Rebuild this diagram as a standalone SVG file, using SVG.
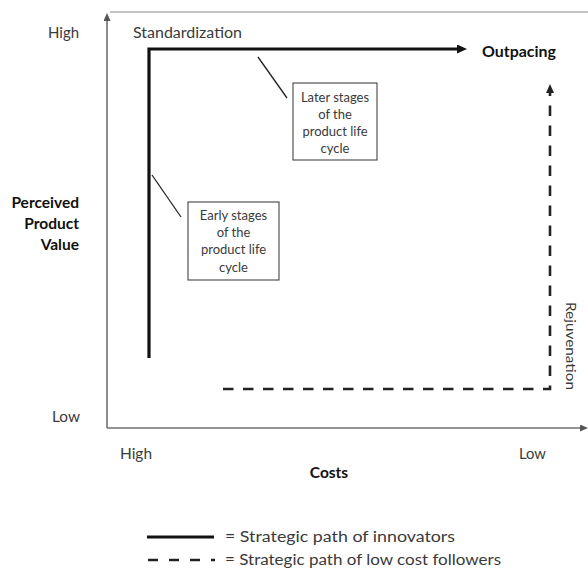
<svg xmlns="http://www.w3.org/2000/svg" width="588" height="569" viewBox="0 0 588 569">
<style>
text{font-family:Lato,"Open Sans","Liberation Sans",sans-serif;fill:#3a3a3a}
.b{font-weight:bold;fill:#111}
.lbl{font-size:15.5px}
.box{font-size:13px;text-anchor:middle}
.axis{stroke:#707070;stroke-width:1.6;fill:none}
.thick{stroke:#111;stroke-width:3.2;fill:none}
.dash{stroke:#222;stroke-width:2.6;fill:none;stroke-dasharray:10.5 9.5}
.frame{fill:#fff;stroke:#444;stroke-width:1.1}
</style>
<defs>
<marker id="ah" markerUnits="userSpaceOnUse" markerWidth="10" markerHeight="9" viewBox="0 0 10 9" refX="1" refY="4.5" orient="auto"><path d="M0,0 L10,4.5 L0,9 z" fill="#111"/></marker>
<marker id="ahd" markerUnits="userSpaceOnUse" markerWidth="9" markerHeight="8" viewBox="0 0 9 8" refX="0" refY="4" orient="auto"><path d="M0,0 L9,4 L0,8 z" fill="#222"/></marker>
<marker id="ax" markerUnits="userSpaceOnUse" markerWidth="8" markerHeight="7" viewBox="0 0 8 7" refX="1" refY="3.5" orient="auto"><path d="M0,0 L8,3.5 L0,7 z" fill="#555"/></marker>
</defs>
<g id="frame">
<line x1="110" y1="12" x2="588" y2="12" stroke="#888" stroke-width="1"/>
</g>
<g id="axes">
<path class="axis" d="M107,428 V20" marker-end="url(#ax)"/>
<path class="axis" d="M107,428 H581" marker-end="url(#ax)"/>
</g>
<g id="axis-labels">
<text x="48" y="38" class="lbl" textLength="31" lengthAdjust="spacingAndGlyphs">High</text>
<text x="52" y="422" class="lbl" textLength="28" lengthAdjust="spacingAndGlyphs">Low</text>
<text x="79" y="208" class="lbl b" text-anchor="end">Perceived</text>
<text x="79" y="229" class="lbl b" text-anchor="end">Product</text>
<text x="79" y="250" class="lbl b" text-anchor="end">Value</text>
<text x="120" y="459" class="lbl" textLength="32" lengthAdjust="spacingAndGlyphs">High</text>
<text x="519" y="459" class="lbl" textLength="27" lengthAdjust="spacingAndGlyphs">Low</text>
<text x="329" y="478" class="lbl b" text-anchor="middle">Costs</text>
</g>
<g id="connectors">
<path class="thick" d="M149,358 V49 H458" marker-end="url(#ah)"/>
<path class="dash" d="M223,389 H550 V93" marker-end="url(#ahd)"/>
<line x1="258" y1="57" x2="287" y2="98" stroke="#222" stroke-width="1.3"/>
<line x1="152" y1="175" x2="181" y2="217" stroke="#222" stroke-width="1.3"/>
</g>
<g id="standardization">
<text x="133" y="38" class="lbl" textLength="109" lengthAdjust="spacingAndGlyphs">Standardization</text>
</g>
<g id="outpacing">
<text x="482" y="57" class="lbl b" textLength="74" lengthAdjust="spacingAndGlyphs">Outpacing</text>
</g>
<g id="rejuvenation">
<text transform="translate(566,302) rotate(90)" x="0" y="0" font-size="13.5" textLength="88" lengthAdjust="spacingAndGlyphs">Rejuvenation</text>
</g>
<g id="later-stages">
<rect class="frame" x="293" y="83" width="84" height="77"/>
<text class="box" x="335" y="102">Later stages</text>
<text class="box" x="335" y="119">of the</text>
<text class="box" x="335" y="136">product life</text>
<text class="box" x="335" y="153">cycle</text>
</g>
<g id="early-stages">
<rect class="frame" x="188" y="202" width="91" height="78"/>
<text class="box" x="233.5" y="220">Early stages</text>
<text class="box" x="233.5" y="237">of the</text>
<text class="box" x="233.5" y="254">product life</text>
<text class="box" x="233.5" y="272">cycle</text>
</g>
<g id="legend">
<line x1="147" y1="537" x2="214" y2="537" stroke="#111" stroke-width="3"/>
<text x="225" y="542" class="lbl" textLength="230" lengthAdjust="spacingAndGlyphs">= Strategic path of innovators</text>
<line x1="148" y1="560" x2="215" y2="560" stroke="#222" stroke-width="2.6" stroke-dasharray="10 11"/>
<text x="225" y="565" class="lbl" textLength="276" lengthAdjust="spacingAndGlyphs">= Strategic path of low cost followers</text>
</g>
</svg>
